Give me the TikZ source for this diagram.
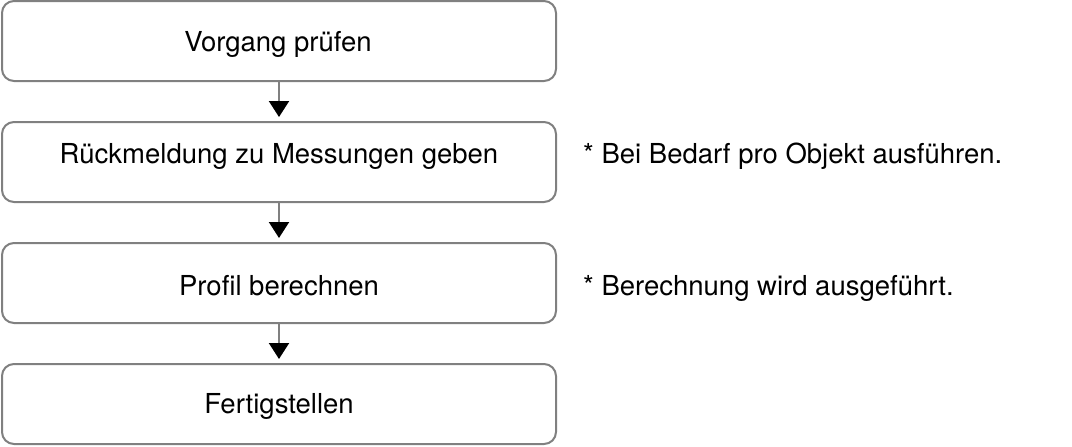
\documentclass[tikz,border=0pt]{standalone}
\usepackage{fontspec}
\setmainfont{TeX Gyre Heros}
\usetikzlibrary{arrows.meta}
\begin{document}
\begin{tikzpicture}[x=1pt,y=-1pt,
  stepbox/.style={draw=black!50, line width=2pt, rounded corners=12pt, minimum width=554pt, minimum height=80pt, inner sep=0pt},
  label/.style={anchor=base, inner sep=0pt, font=\fontsize{27.5}{32}\selectfont},
  note/.style={anchor=base west, inner sep=0pt, font=\fontsize{27.5}{32}\selectfont},
  flow/.style={draw=black!50, line width=2pt, shorten >=4pt, -{Triangle[width=20pt,length=16pt,color=black]}}]
\useasboundingbox (0,0) rectangle (1072,447);
\node[stepbox] (a) at (279,41) {};
\node[stepbox] (b) at (279,162) {};
\node[stepbox] (c) at (279,283) {};
\node[stepbox] (d) at (279,404) {};
\node[label] (ta) at (278,51) {Vorgang prüfen};
\node[label] (tb) at (279,163) {Rückmeldung zu Messungen geben};
\node[label] (tc) at (279,295) {Profil berechnen};
\node[label] (td) at (279,413) {Fertigstellen};
\node[note] (n1) at (583,163) {* Bei Bedarf pro Objekt ausführen.};
\node[note] (n2) at (583,295) {* Berechnung wird ausgeführt.};
\draw[flow] (a) -- (b);
\draw[flow] (b) -- (c);
\draw[flow] (c) -- (d);
\end{tikzpicture}
\end{document}
